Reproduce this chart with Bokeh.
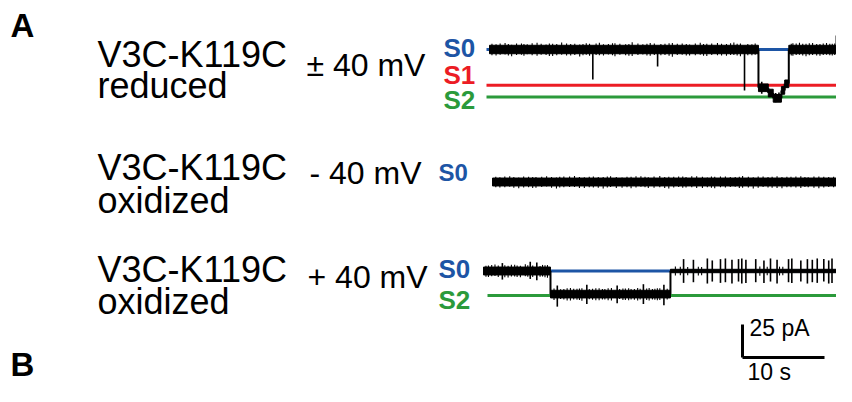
from bokeh.plotting import figure
from bokeh.models import Range1d
from bokeh.embed import file_html
from bokeh.resources import INLINE
from bokeh.core.properties import value

# ------------------------------------------------------------------ data
# Trace 1: V3C-K119C reduced, +/-40 mV  (time in s, current in pA relative to S0)
t1_edges = [0.0, 32.8, 34.0, 34.6, 35.6, 36.0, 36.5, 42.6]
t1_levels = [0.0, -29.0, -33.0, -37.0, -31.0, -26.0, 0.0]
t1_noise = [3.2, 2.9, 2.9, 2.9, 2.9, 2.9, 3.2]
# distinct events (t, low, high)
t1_event_t = [12.6, 20.5, 31.1, 42.3, 33.2, 34.9, 35.3]
t1_event_lo = [-22.7, -12.9, -31.0, 0.0, -33.5, -40.0, -39.5]
t1_event_hi = [0.0, 0.0, 0.0, 10.6, -24.5, -33.0, -32.5]
# open-channel noise excursions
t1_fuzz_t = [0.3, 0.8, 1.3, 1.9, 2.3, 2.7, 3.3, 3.9, 4.2, 4.6, 5.2, 5.8, 6.3, 6.9, 7.3,
             7.7, 8.2, 8.8, 9.4, 9.9, 10.4, 11.0, 11.4, 11.8, 12.2, 13.0, 13.4, 13.9,
             14.5, 15.0, 15.3, 15.9, 16.6, 17.0, 17.4, 18.1, 18.7, 19.2, 19.6, 20.1,
             20.9, 21.4, 21.9, 22.3, 22.9, 23.5, 24.0, 24.4, 25.1, 25.7, 26.1, 26.5,
             27.1, 27.8, 28.3, 28.9, 29.4, 29.8, 30.2, 30.6, 31.5, 32.0, 32.4,
             36.8, 37.0, 37.4, 37.8, 38.2, 38.6, 39.0, 39.4, 39.9, 40.3, 40.7, 41.1,
             41.5, 41.8, 42.1]
t1_fuzz_lo = [-4.3, -4.5, -4.0, -3.8, -4.6, -5.2, -4.1, -4.0, -4.7, -3.6, -4.4, -4.8,
              -4.0, -4.2, -4.9, -5.0, -4.3, -3.9, -4.5, -4.6, -4.1, -5.3, -4.4, -4.0,
              -4.8, -4.2, -4.4, -4.6, -3.7, -4.3, -5.1, -4.0, -4.3, -4.7, -4.9, -4.1,
              -3.8, -4.5, -4.7, -4.2, -4.4, -4.1, -4.8, -5.4, -4.2, -4.0, -4.6, -4.6,
              -4.3, -3.9, -4.7, -5.0, -4.1, -4.4, -4.5, -4.8, -4.2, -4.1, -4.6, -5.2,
              -4.4, -4.3, -4.0, -4.5, -4.7, -4.2, -4.0, -4.6, -5.1, -4.3, -4.2, -4.5,
              -4.8, -4.1, -3.9, -4.4, -4.6, -4.2]
t1_fuzz_hi = [4.4, 4.0, 4.6, 5.0, 4.1, 3.6, 4.5, 4.6, 4.2, 3.9, 4.7, 5.2, 4.3, 3.8,
              4.5, 4.4, 4.1, 5.3, 4.6, 4.1, 4.4, 3.7, 4.2, 4.8, 4.3, 4.6, 5.1, 4.0,
              4.2, 4.8, 4.7, 4.4, 3.9, 4.1, 5.4, 4.5, 4.0, 4.3, 4.9, 4.6, 4.2, 4.3,
              4.7, 5.0, 4.4, 4.5, 4.1, 3.8, 4.6, 5.2, 4.2, 4.4, 4.5, 4.9, 4.3, 4.1,
              4.7, 5.3, 4.4, 4.6, 4.1, 4.0, 4.5, 4.3, 4.8, 4.6, 5.2, 4.4, 4.3, 4.7,
              4.9, 4.2, 4.1, 4.5, 5.0, 4.3, 4.4, 4.6]
t1_states = ["S0", "S1", "S2"]
t1_state_pA = [0.0, -27.0, -36.0]

# Trace 2: V3C-K119C oxidized, -40 mV
t2_edges = [0.0, 43.4]
t2_levels = [0.0]
t2_noise = [3.0]
t2_fuzz_t = [0.4, 0.9, 1.5, 2.1, 2.6, 3.2, 3.8, 4.4, 4.9, 5.3, 6.0, 6.6, 7.2, 7.8, 8.2,
             8.7, 9.4, 10.0, 10.6, 11.2, 11.8, 12.3, 12.9, 13.5, 14.0, 14.4, 15.1, 15.8,
             16.4, 16.9, 17.5, 18.1, 18.6, 19.0, 19.7, 20.4, 21.0, 21.5, 22.1, 22.7,
             23.2, 23.6, 24.3, 24.9, 25.6, 26.2, 26.7, 27.1, 27.8, 28.4, 29.0, 29.6,
             30.1, 30.5, 31.2, 31.8, 32.4, 33.0, 33.6, 34.1, 34.7, 35.3, 35.9, 36.4,
             37.0, 37.6, 38.1, 38.5, 39.2, 39.8, 40.4, 41.0, 41.6, 42.2, 42.8]
t2_fuzz_lo = [-4.0, -4.2, -3.9, -3.6, -4.4, -4.8, -4.1, -3.9, -4.5, -4.4, -3.8, -3.5,
              -4.3, -4.9, -4.2, -4.0, -3.8, -3.7, -4.5, -4.6, -4.0, -4.1, -4.4, -5.0,
              -4.1, -3.8, -4.6, -4.3, -3.9, -4.7, -4.2, -3.6, -4.0, -4.5, -4.3, -4.0,
              -4.6, -4.9, -4.1, -3.7, -4.4, -4.2, -3.9, -4.6, -4.5, -3.9, -4.3, -4.8,
              -4.0, -4.1, -3.8, -3.6, -4.5, -4.4, -4.2, -5.0, -4.4, -3.8, -4.1, -4.3,
              -4.5, -4.7, -4.0, -3.9, -4.2, -4.5, -3.8, -4.0, -4.4, -4.8, -4.2, -3.7,
              -4.0, -4.2, -4.3]
t2_fuzz_hi = [3.9, 3.6, 4.1, 4.3, 3.8, 3.4, 4.2, 4.0, 3.7, 3.7, 4.0, 4.4, 3.8, 3.5,
              3.9, 4.1, 4.2, 4.5, 3.8, 3.6, 4.0, 4.2, 3.7, 3.8, 4.1, 4.4, 3.8, 3.5,
              4.0, 4.0, 4.3, 4.3, 3.9, 3.6, 4.1, 4.5, 3.8, 3.9, 4.0, 4.1, 4.2, 3.7,
              4.3, 4.4, 3.9, 3.5, 4.1, 4.0, 4.2, 4.2, 3.7, 3.8, 4.0, 4.5, 3.9, 3.6,
              4.1, 4.1, 3.8, 3.9, 4.3, 3.7, 4.0, 4.0, 4.2, 4.4, 3.8, 3.6, 4.1, 4.2,
              3.9, 3.8, 4.0, 4.1, 3.9]
t2_states = ["S0"]

# Trace 3: V3C-K119C oxidized, +40 mV
t3_edges = [0.0, 8.17, 22.8, 44.15]
t3_levels = [0.0, -17.5, 0.0]
t3_noise = [3.0, 2.9, 1.3]
t3_event_t = [2.3, 5.7, 6.5,
              9.0, 12.6, 16.3, 19.5, 22.0,
              24.4, 25.6, 27.3, 27.9, 28.9, 29.5, 30.3, 31.1, 31.5, 32.0, 33.2,
              34.2, 35.0, 35.8, 37.2, 37.6, 38.7, 39.5, 40.1, 40.7, 41.5, 42.1,
              42.5, 43.1]
t3_event_lo = [-6.5, -6.0, -7.0,
               -27.0, -25.0, -24.5, -25.0, -26.0,
               -9.0, -8.5, -9.5, -8.0, -9.0, -8.5, -9.5, -8.0, -9.5, -9.0, -8.5,
               -9.0, -8.0, -9.5, -8.5, -9.0, -8.0, -9.5, -8.5, -9.0, -8.0, -9.5,
               -9.0, -8.5]
t3_event_hi = [6.0, 7.0, 6.5,
               -11.0, -10.5, -11.0, -10.0, -10.5,
               9.0, 8.5, 9.5, 8.0, 9.0, 9.5, 8.5, 9.0, 9.5, 8.5, 9.0,
               8.0, 9.5, 8.5, 9.0, 9.5, 8.0, 9.0, 8.5, 9.5, 9.0, 8.0,
               9.5, 9.0]
t3_fuzz_t = [0.3, 0.6, 1.0, 1.4, 1.8, 2.6, 3.0, 3.4, 3.8, 4.1, 4.5, 5.1, 5.4, 6.0, 6.9,
             7.2, 7.5, 7.8,
             8.6, 9.4, 9.8, 10.2, 10.6, 11.0, 11.4, 11.7, 12.0, 12.9, 13.3, 13.7,
             14.1, 14.5, 14.8, 15.2, 15.6, 16.6, 17.0, 17.3, 17.7, 18.0, 18.4, 18.8,
             19.1, 19.9, 20.2, 20.6, 20.9, 21.2, 21.5, 22.4,
             23.4, 24.0, 24.9, 26.2, 26.6, 33.7, 34.6, 36.1, 36.5, 43.6]
t3_fuzz_lo = [-4.4, -4.6, -4.0, -3.8, -4.5, -4.7, -5.0, -4.1, -4.2, -4.5, -4.8, -3.9,
              -4.3, -4.6, -4.4, -4.2, -4.7, -5.1,
              -22.0, -21.2, -21.5, -22.3, -22.3, -21.6, -21.8, -22.0, -22.5, -21.4,
              -21.7, -22.1, -22.2, -21.5, -21.6, -22.2, -22.4, -21.3, -21.9, -22.0,
              -22.1, -21.5, -21.7, -22.4, -21.6, -22.0, -22.4, -21.5, -21.8, -22.2,
              -22.0, -21.6,
              -3.5, -3.3, -3.2, -3.4, -3.2, -3.6, -3.3, -3.4, -3.3, -3.4]
t3_fuzz_hi = [4.0, 4.2, 4.6, 5.0, 4.1, 4.3, 3.9, 4.8, 4.7, 4.2, 4.0, 5.2, 4.4, 4.1,
              3.8, 4.6, 4.3, 4.5,
              -13.2, -13.8, -13.6, -13.0, -12.9, -13.5, -13.4, -13.2, -13.0, -13.7,
              -13.5, -13.1, -13.1, -13.6, -13.7, -13.0, -12.8, -13.6, -13.3, -13.2,
              -13.0, -13.7, -13.6, -12.9, -13.4, -13.2, -12.9, -13.6, -13.4, -13.1,
              -13.1, -13.5,
              3.4, 3.2, 3.1, 3.3, 3.1, 3.5, 3.2, 3.3, 3.2, 3.3]
t3_states = ["S0", "S2"]
t3_state_pA = [0.0, -18.5]

scale_pA = 25
scale_s = 10

# ------------------------------------------------------------------ layout helpers
PX_PER_S = 8.2
PX_PER_PA = 1.32
W, H = 836, 386


def X(px):
    return (px - 489) / PX_PER_S


def Y(py):
    return -py / PX_PER_PA


STATE_COLORS = {"S0": "#1d55a5", "S1": "#ec1c24", "S2": "#2b9a3b"}
FONT = value("Liberation Sans")

p = figure(width=W, height=H, x_range=Range1d(X(0), X(W)),
           y_range=Range1d(Y(H), Y(0)), output_backend="svg",
           toolbar_location=None, min_border=0)
p.axis.visible = False
p.grid.visible = False
p.outline_line_color = None
p.background_fill_color = "white"
p.border_fill_color = "white"


def draw_states(states, state_pA, y_px, line_start_px):
    oy = Y(y_px)
    for s, lv in zip(states, state_pA):
        p.segment(x0=[X(line_start_px)], y0=[oy + lv], x1=[X(W + 20)], y1=[oy + lv],
                  line_color=STATE_COLORS[s], line_width=3)


def draw_trace(edges, levels, noise, spikes, x_px, y_px):
    ox = X(x_px)
    oy = Y(y_px)
    p.quad(left=[ox + e for e in edges[:-1]], right=[ox + e for e in edges[1:]],
           bottom=[oy + l - n for l, n in zip(levels, noise)],
           top=[oy + l + n for l, n in zip(levels, noise)],
           fill_color="black", line_color="black", line_width=1)
    if len(levels) > 1:
        p.segment(x0=[ox + e for e in edges[1:-1]], x1=[ox + e for e in edges[1:-1]],
                  y0=[oy + l for l in levels[:-1]], y1=[oy + l for l in levels[1:]],
                  line_color="black", line_width=2)
    for (ts, lo, hi, lw) in spikes:
        p.segment(x0=[ox + t for t in ts], x1=[ox + t for t in ts],
                  y0=[oy + v for v in lo], y1=[oy + v for v in hi],
                  line_color="black", line_width=lw)


def draw_labels(states, label_px, label_py, size):
    p.text(x=[X(label_px)] * len(states), y=[Y(v) for v in label_py], text=states,
           text_color=[STATE_COLORS[s] for s in states], text_font=FONT,
           text_font_style="bold", text_font_size=size,
           text_align="left", text_baseline="middle")


# trace 1
draw_states(t1_states, t1_state_pA, 49, 486)
draw_trace(t1_edges, t1_levels, t1_noise,
           [(t1_fuzz_t, t1_fuzz_lo, t1_fuzz_hi, 1.1), (t1_event_t, t1_event_lo, t1_event_hi, 1.6)],
           489, 49)
draw_labels(t1_states, 443, [47, 74, 99], "26px")

# trace 2
draw_trace(t2_edges, t2_levels, t2_noise, [(t2_fuzz_t, t2_fuzz_lo, t2_fuzz_hi, 1.1)],
           492, 181.5)
draw_labels(t2_states, 438, [172], "24px")

# trace 3
draw_states(t3_states, t3_state_pA, 270.5, 487)
draw_trace(t3_edges, t3_levels, t3_noise,
           [(t3_fuzz_t, t3_fuzz_lo, t3_fuzz_hi, 1.1), (t3_event_t, t3_event_lo, t3_event_hi, 1.6)],
           483, 270.5)
draw_labels(t3_states, 438, [268, 299], "26px")

# condition labels (vertical positions are text centres)
p.text(x=[X(97)] * 6, y=[Y(54), Y(85), Y(167), Y(200), Y(269), Y(301)],
       text=["V3C-K119C", "reduced", "V3C-K119C", "oxidized", "V3C-K119C", "oxidized"],
       text_font=FONT, text_font_size="36px", text_color="black",
       text_align="left", text_baseline="middle")
p.text(x=[X(306), X(309), X(307)], y=[Y(64), Y(172), Y(276)],
       text=["± 40 mV", "- 40 mV", "+ 40 mV"],
       text_font=FONT, text_font_size="32px", text_color="black",
       text_align="left", text_baseline="middle")

# panel letters
p.text(x=[X(10), X(10)], y=[Y(25), Y(364)], text=["A", "B"], text_font=FONT,
       text_font_style="bold", text_font_size="33px", text_color="black",
       text_align="left", text_baseline="middle")

# scale bar
sx, sy = X(742), Y(357)
p.segment(x0=[sx, sx], y0=[sy, sy], x1=[sx, sx + scale_s], y1=[sy + scale_pA, sy],
          line_color="black", line_width=3)
p.text(x=[X(749), X(747)], y=[Y(327), Y(371)],
       text=[f"{scale_pA} pA", f"{scale_s} s"], text_font=FONT,
       text_font_size="23px", text_color="black",
       text_align="left", text_baseline="middle")

open("out.html", "w").write(file_html(p, INLINE))
